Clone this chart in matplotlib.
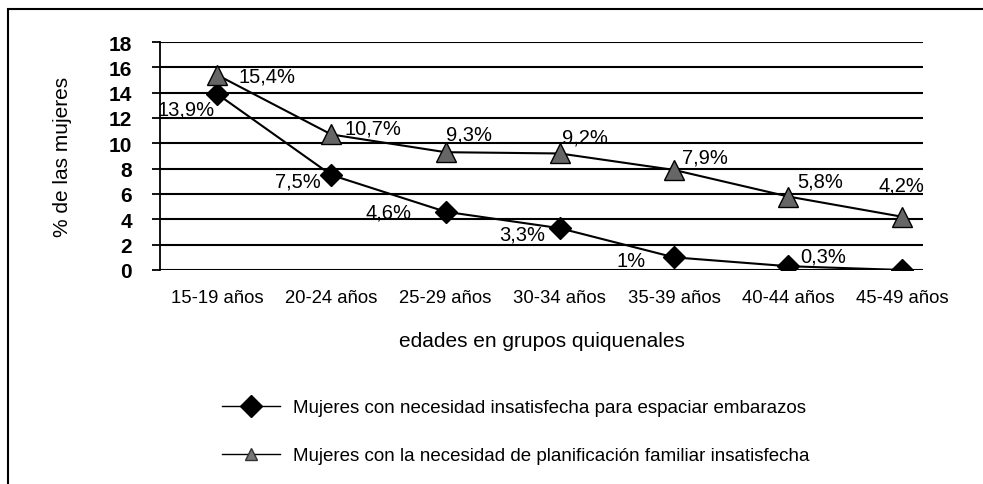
import matplotlib.pyplot as plt
from matplotlib.patches import Rectangle
from matplotlib.lines import Line2D

grupos = ['15-19 años', '20-24 años', '25-29 años', '30-34 años',
          '35-39 años', '40-44 años', '45-49 años']
espaciar = [13.9, 7.5, 4.6, 3.3, 1.0, 0.3, 0.0]
planif = [15.4, 10.7, 9.3, 9.2, 7.9, 5.8, 4.2]
lab_espaciar = ['13,9%', '7,5%', '4,6%', '3,3%', '1%', '0,3%', '']
lab_planif = ['15,4%', '10,7%', '9,3%', '9,2%', '7,9%', '5,8%', '4,2%']

plt.rcParams['font.family'] = ['Liberation Sans', 'DejaVu Sans']

fig = plt.figure(figsize=(9.83, 4.85), dpi=100)
ax = fig.add_axes([160/983, 1-271/485, (923-160)/983, (271-43)/485])

x = list(range(len(grupos)))
ax.plot(x, espaciar, '-', color='black', lw=1.5, marker='D', ms=11, mfc='black', mec='black', zorder=5)
ax.plot(x, planif, '-', color='black', lw=1.5, marker='^', ms=14, mfc='#666666', mec='black', zorder=5)

# posiciones de las etiquetas (puntos)
off_e = [(-22, -11), (-24, -4), (-41, 0), (-27, -4), (-31, -2), (25, 7), (0, 0)]
off_p = [(36, -1), (30, 5), (17, 13), (18, 12), (22, 9), (23, 11), (-1, 23)]
for i in x:
    if lab_espaciar[i]:
        ax.annotate(lab_espaciar[i], (i, espaciar[i]), xytext=off_e[i], textcoords='offset points',
                    ha='center', va='center', fontsize=14.5)
    ax.annotate(lab_planif[i], (i, planif[i]), xytext=off_p[i], textcoords='offset points',
                ha='center', va='center', fontsize=14.5)

ax.set_xlim(-0.5, 6.18)
ax.set_ylim(0, 18)
ax.set_yticks(range(0, 19, 2))
ax.set_xticks(x)
ax.set_xticklabels(grupos, fontsize=13.3)
ax.tick_params(axis='y', labelsize=15, length=6, width=1.3, pad=14)
for t in ax.get_yticklabels():
    t.set_fontweight('bold')
ax.tick_params(axis='x', length=0, pad=14)
ax.grid(axis='y', color='black', lw=1.5)
ax.set_axisbelow(True)
for s in ['top', 'right', 'bottom']:
    ax.spines[s].set_visible(False)
ax.spines['left'].set_linewidth(1.3)

ax.set_xlabel('edades en grupos quiquenales', fontsize=15, labelpad=18)
fig.text(63/983, 1-157/485, '% de las mujeres', rotation=90, ha='center', va='center', fontsize=15)

# leyenda
h1 = Line2D([], [], color='black', lw=1, marker='D', ms=11, mfc='black')
h2 = Line2D([], [], color='black', lw=1, marker='^', ms=9, mfc='#777777', mec='#333333')
fig.legend([h1, h2], ['Mujeres con necesidad insatisfecha para espaciar embarazos',
                      'Mujeres con la necesidad de planificación familiar insatisfecha'],
           loc='upper left', bbox_to_anchor=(222/983, 1-400/485), frameon=False, fontsize=13.5,
           handlelength=3.1, handletextpad=0.7, labelspacing=1.65, borderpad=0, borderaxespad=0)

fig.patches.append(Rectangle((8/983, -0.2), 1.2, 1-10/485+0.2, transform=fig.transFigure,
                             fill=False, lw=1.5, ec='black'))

fig.savefig('out.png', dpi=100)
